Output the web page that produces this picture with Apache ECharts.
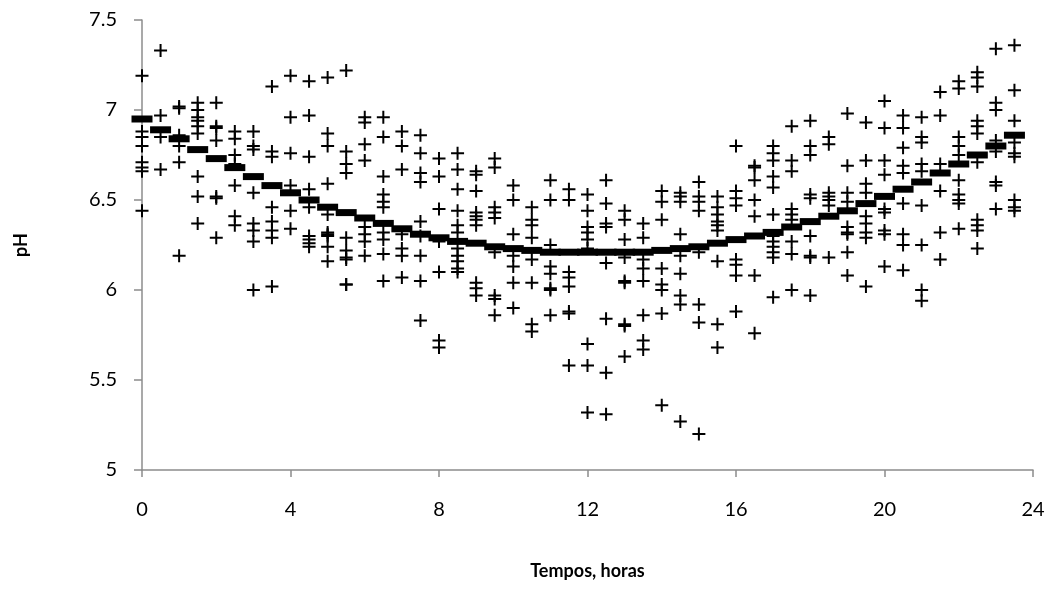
<!DOCTYPE html>
<html>
<head>
<meta charset="utf-8">
<title>pH ao longo do dia</title>
<script src="https://cdn.jsdelivr.net/npm/echarts@6/dist/echarts.min.js"></script>
<style>
  html, body { margin: 0; padding: 0; background: #fff; }
  #chart { width: 1050px; height: 589px; }
</style>
</head>
<body>
<div id="chart"></div>
<script>
// Sampling times (hours)
const hours = [0, 0.5, 1, 1.5, 2, 2.5, 3, 3.5, 4, 4.5, 5, 5.5, 6, 6.5, 7, 7.5,
    8, 8.5, 9, 9.5, 10, 10.5, 11, 11.5, 12, 12.5, 13, 13.5, 14, 14.5, 15, 15.5,
    16, 16.5, 17, 17.5, 18, 18.5, 19, 19.5, 20, 20.5, 21, 21.5, 22, 22.5, 23, 23.5];

// Mean pH at each time (thick dashes)
const meanPH = [6.95, 6.89, 6.84, 6.78, 6.73, 6.68, 6.63, 6.58, 6.54, 6.50, 6.46, 6.43,
    6.40, 6.37, 6.34, 6.31, 6.29, 6.27, 6.26, 6.24, 6.23, 6.22, 6.21, 6.21,
    6.21, 6.21, 6.21, 6.21, 6.22, 6.23, 6.24, 6.26, 6.28, 6.30, 6.32, 6.35,
    6.38, 6.41, 6.44, 6.48, 6.52, 6.56, 6.60, 6.65, 6.70, 6.75, 6.80, 6.86];

// Individual readings, one row per time in `hours`
const readings = [
    [7.19, 6.88, 6.85, 6.80, 6.71, 6.68, 6.66, 6.44],
    [7.33, 6.97, 6.85, 6.67],
    [7.02, 7.01, 6.86, 6.80, 6.71, 6.19],
    [7.04, 7.00, 6.96, 6.94, 6.91, 6.87, 6.63, 6.52, 6.37],
    [7.04, 6.91, 6.90, 6.83, 6.52, 6.51, 6.29],
    [6.88, 6.84, 6.75, 6.70, 6.58, 6.41, 6.36],
    [6.88, 6.80, 6.78, 6.54, 6.37, 6.33, 6.27, 6.00],
    [7.13, 6.77, 6.74, 6.46, 6.38, 6.33, 6.29, 6.02],
    [7.19, 6.96, 6.76, 6.58, 6.44, 6.34],
    [7.16, 6.97, 6.74, 6.56, 6.46, 6.30, 6.28, 6.26, 6.24],
    [7.18, 6.87, 6.80, 6.59, 6.42, 6.32, 6.31, 6.30, 6.24, 6.16],
    [7.22, 6.77, 6.70, 6.65, 6.29, 6.22, 6.18, 6.17, 6.03, 6.03],
    [6.96, 6.93, 6.81, 6.72, 6.35, 6.31, 6.27, 6.19],
    [6.96, 6.85, 6.63, 6.53, 6.49, 6.46, 6.32, 6.28, 6.20, 6.05],
    [6.88, 6.80, 6.67, 6.31, 6.23, 6.19, 6.07],
    [6.86, 6.76, 6.65, 6.60, 6.38, 6.30, 6.19, 6.05, 5.83],
    [6.73, 6.63, 6.45, 6.27, 6.10, 5.72, 5.68],
    [6.76, 6.67, 6.56, 6.44, 6.36, 6.32, 6.23, 6.19, 6.16, 6.12, 6.10],
    [6.66, 6.64, 6.55, 6.43, 6.41, 6.39, 6.36, 6.04, 6.01, 5.97],
    [6.73, 6.68, 6.46, 6.43, 6.40, 6.21, 5.97, 5.95, 5.86],
    [6.58, 6.50, 6.31, 6.19, 6.13, 6.04, 5.90],
    [6.46, 6.39, 6.36, 6.29, 6.17, 6.04, 5.81, 5.77],
    [6.61, 6.50, 6.25, 6.13, 6.09, 6.01, 6.00, 5.86],
    [6.56, 6.50, 6.10, 6.07, 6.02, 5.88, 5.87, 5.58],
    [6.53, 6.44, 6.35, 6.32, 6.28, 6.23, 5.70, 5.58, 5.32],
    [6.61, 6.48, 6.37, 6.35, 6.15, 5.84, 5.54, 5.31],
    [6.44, 6.39, 6.28, 6.18, 6.05, 6.04, 5.81, 5.80, 5.63],
    [6.37, 6.29, 6.17, 6.12, 6.05, 5.86, 5.72, 5.67],
    [6.55, 6.49, 6.39, 6.12, 6.03, 6.00, 5.87, 5.36],
    [6.54, 6.52, 6.49, 6.31, 6.19, 6.09, 5.97, 5.92, 5.27],
    [6.60, 6.52, 6.49, 6.44, 6.21, 5.92, 5.82, 5.20],
    [6.52, 6.46, 6.42, 6.38, 6.36, 6.33, 6.16, 5.81, 5.68],
    [6.80, 6.55, 6.51, 6.47, 6.17, 6.14, 6.08, 5.88],
    [6.69, 6.68, 6.61, 6.50, 6.41, 6.08, 5.76],
    [6.80, 6.76, 6.72, 6.63, 6.57, 6.42, 6.30, 6.27, 6.24, 6.21, 6.18, 5.96],
    [6.91, 6.72, 6.66, 6.45, 6.42, 6.39, 6.27, 6.20, 6.00],
    [6.94, 6.80, 6.75, 6.53, 6.51, 6.30, 6.19, 6.18, 5.97],
    [6.85, 6.81, 6.54, 6.52, 6.50, 6.47, 6.18],
    [6.98, 6.69, 6.54, 6.49, 6.35, 6.32, 6.31, 6.21, 6.08],
    [6.93, 6.72, 6.59, 6.54, 6.41, 6.37, 6.32, 6.29, 6.02],
    [7.05, 6.90, 6.72, 6.64, 6.45, 6.43, 6.33, 6.31, 6.13],
    [6.97, 6.90, 6.79, 6.69, 6.65, 6.48, 6.31, 6.25, 6.11],
    [6.96, 6.85, 6.82, 6.70, 6.66, 6.47, 6.25, 6.00, 5.94],
    [7.10, 6.97, 6.70, 6.55, 6.32, 6.17],
    [7.16, 7.12, 6.85, 6.80, 6.75, 6.61, 6.53, 6.50, 6.48, 6.34],
    [7.21, 7.18, 7.13, 6.94, 6.91, 6.87, 6.71, 6.39, 6.36, 6.33, 6.23],
    [7.34, 7.04, 7.00, 6.83, 6.77, 6.60, 6.58, 6.45],
    [7.36, 7.11, 6.94, 6.82, 6.76, 6.74, 6.50, 6.46, 6.44]
];

const FONT = 'Lato, "Liberation Sans", sans-serif';
const AXIS_GREY = '#8c8c8c';

// "+" marker as a filled cross
const PLUS = 'path://M5.5,0 H7.5 V5.5 H13 V7.5 H7.5 V13 H5.5 V7.5 H0 V5.5 H5.5 Z';

const pointData = [];
readings.forEach((row, i) => {
    row.forEach(v => pointData.push([hours[i], v]));
});
const meanData = hours.map((h, i) => [h, meanPH[i]]);

const chart = echarts.init(document.getElementById('chart'), null, { renderer: 'canvas' });

chart.setOption({
    backgroundColor: '#ffffff',
    animation: false,
    grid: { left: 142, right: 17, top: 20, bottom: 119 },
    xAxis: {
        type: 'value',
        min: 0,
        max: 24,
        interval: 4,
        name: 'Tempos, horas',
        nameLocation: 'middle',
        nameGap: 92,
        nameTextStyle: { fontFamily: FONT, fontWeight: 'bold', fontSize: 18, color: '#000' },
        axisLine: { show: true, lineStyle: { color: AXIS_GREY, width: 1.5 } },
        axisTick: { show: true, length: 7, lineStyle: { color: AXIS_GREY, width: 1.5 } },
        axisLabel: { fontFamily: FONT, fontSize: 20, color: '#000', margin: 30 },
        splitLine: { show: false }
    },
    yAxis: {
        type: 'value',
        min: 5,
        max: 7.5,
        interval: 0.5,
        name: 'pH',
        nameLocation: 'middle',
        nameGap: 112,
        nameRotate: 90,
        nameTextStyle: { fontFamily: FONT, fontWeight: 'bold', fontSize: 18, color: '#000' },
        axisLine: { show: true, lineStyle: { color: AXIS_GREY, width: 1.5 } },
        axisTick: { show: true, length: 8, lineStyle: { color: AXIS_GREY, width: 1.5 } },
        axisLabel: { fontFamily: FONT, fontSize: 20, color: '#000', margin: 25 },
        splitLine: { show: false }
    },
    series: [
        {
            name: 'Leituras',
            type: 'scatter',
            data: pointData,
            symbol: PLUS,
            symbolSize: 13,
            itemStyle: { color: '#000', opacity: 1 },
            z: 2
        },
        {
            name: 'Média',
            type: 'scatter',
            data: meanData,
            symbol: 'rect',
            symbolSize: [21, 7],
            itemStyle: { color: '#000', opacity: 1 },
            z: 3
        }
    ]
});
</script>
</body>
</html>
